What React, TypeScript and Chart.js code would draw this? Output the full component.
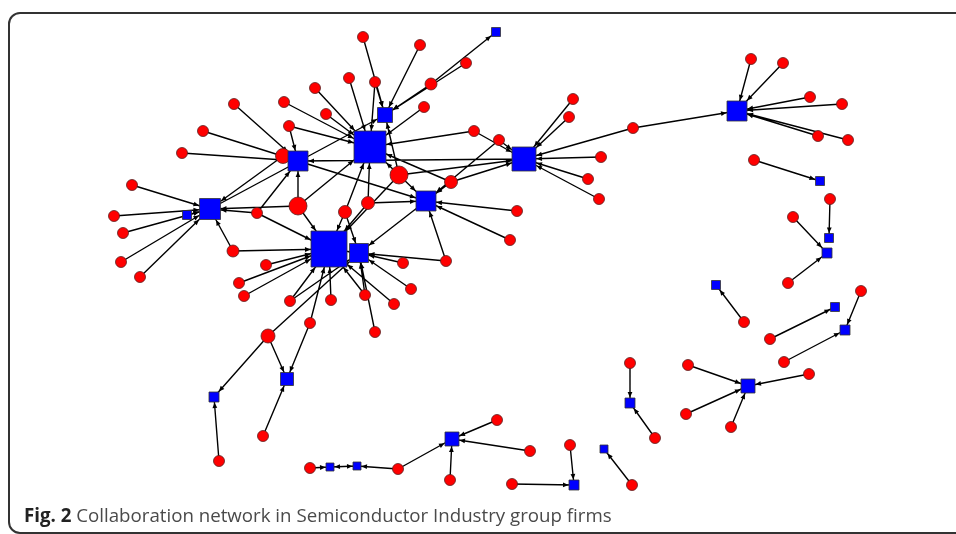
import { useEffect, useRef } from "react";
import { Chart, registerables } from "chart.js";

Chart.register(...registerables);

// ---- Firms (blue squares) ----
const firmIds = ["F1","F2","F3","F4","F5","F6","F7","F8","F9","F10","F11","F12","F13","F14","F15","F16","F17","F18","F19","F20","F21","F22","F23","F24","F25","F26"];
const firmX = [298,385,370,524,210,187,426,329,359,496,737,820,829,827,716,835,845,748,630,604,574,452,357,330,287,214];
const firmY = [161,115,147,159,209,215,201,249,253,32,111,181,238,253,285,307,330,386,403,449,485,439,466,467,379,397];
const firmWeight = [20,15,32,24,21,9,20,36,19,9,20,9,9,10,9,9,10,14,10,8,10,14,8,8,13,10];

// ---- Partners (red circles) ----
const partnerIds = ["P1","P2","P3","P4","P5","P6","P7","P8","P9","P10","P11","P12","P13","P14","P15","P16","P17","P18","P19","P20","P21","P22","P23","P24","P25","P26","P27","P28","P29","P30","P31","P32","P33","P34","P35","P36","P37","P38","P39","P40","P41","P42","P43","P44","P45","P46","P47","P48","P49","P50","P51","P52","P53","P54","P55","P56","P57","P58","P59","P60","P61","P62","P63","P64","P65","P66","P67","P68","P69","P70","P71","P72","P73","P74","P75","P76","P77","P78","P79","P80"];
const partnerX = [363,420,466,349,375,431,424,326,315,234,284,289,203,182,283,474,499,573,569,633,601,588,599,399,451,298,257,368,345,132,114,123,121,140,233,266,239,244,290,331,310,268,365,394,375,411,403,446,510,517,263,219,310,398,450,497,530,512,570,632,630,655,688,686,731,809,784,770,744,861,788,793,830,754,751,783,810,842,818,848];
const partnerY = [37,45,63,78,82,84,107,114,88,104,102,126,131,153,156,131,140,99,117,128,157,179,199,175,182,206,213,203,212,185,216,233,262,277,251,265,283,296,301,300,323,336,295,304,332,289,263,261,240,211,436,461,468,469,480,420,451,484,445,485,363,438,365,414,427,374,362,339,322,291,283,217,199,160,59,63,97,104,136,140];
const partnerWeight = [11,11,11,11,11,12,11,11,11,11,11,11,11,11,15,11,11,11,11,11,11,11,11,18,13,18,11,13,13,11,11,11,11,11,12,11,11,11,11,11,11,14,11,11,11,11,11,11,11,11,11,11,11,11,11,11,11,11,11,11,11,11,11,11,11,11,11,11,11,11,11,11,11,11,11,11,11,11,11,11];

// ---- Directed ties ----
const edgeFrom = [
  "P75","P76","P77","P78","P79","P80","P20","P20","P74","P73","P72","P71","P69","P68","P70","P67",
  "P63","P66","P64","P65","P61","P62","P60","P59","P58","P56","P57","P55","P54","P54","F23","F24","P53",
  "P42","P41","P51","P42","P52","P6","P3","P6","P1","P2","P5",
  "P5","P4","P8","P11","P9","P12","P7","P16","P25","P24","P26","P28","P29","P24","F5",
  "P12","P10","P13","P14","P15","P26","P27","F4","F1",
  "P16","P17","P18","P19","P21","P22","P23","P24","P25",
  "P17","P25","P24","P28","P50","P49","P48","F7",
  "P30","P31","P32","P33","P34","F6","P15","P26","P27","P35",
  "P35","P27","P26","P36","P37","P38","P39","P40","P41","P43","P44","P29","P28","P24",
  "P39","P42","P43","P45","P46","P47","P48","P29","F9"
];
const edgeTo = [
  "F11","F11","F11","F11","F11","F11","F11","F4","F12","F13","F14","F14","F15","F16","F17","F17",
  "F18","F18","F18","F18","F19","F19","F20","F21","F21","F22","F22","F22","F22","F23","F24","F23","F24",
  "F25","F25","F25","F26","F26","F10","F2","F2","F2","F2","F2",
  "F3","F3","F3","F3","F3","F3","F3","F3","F3","F3","F3","F3","F3","F2","F2",
  "F1","F1","F1","F1","F1","F1","F1","F1","F7",
  "F4","F4","F4","F4","F4","F4","F4","F4","F4",
  "F7","F7","F7","F7","F7","F7","F7","F9",
  "F5","F5","F5","F5","F5","F5","F5","F5","F5","F5",
  "F8","F8","F8","F8","F8","F8","F8","F8","F8","F8","F8","F8","F8","F8",
  "F9","F9","F9","F9","F9","F9","F9","F9","F8"
];

type NodeInfo = { x: number; y: number; kind: "firm" | "partner"; w: number };

function buildNodes(): Record<string, NodeInfo> {
  const m: Record<string, NodeInfo> = {};
  firmIds.forEach((id, i) => (m[id] = { x: firmX[i], y: firmY[i], kind: "firm", w: firmWeight[i] }));
  partnerIds.forEach((id, i) => (m[id] = { x: partnerX[i], y: partnerY[i], kind: "partner", w: partnerWeight[i] }));
  return m;
}

const W = 956;
const H = 534;

export default function App() {
  const ref = useRef<HTMLCanvasElement | null>(null);

  useEffect(() => {
    if (!ref.current) return;
    const nodes = buildNodes();
    const edgeData: { x: number; y: number | null }[] = [];
    edgeFrom.forEach((s, i) => {
      const a = nodes[s];
      const b = nodes[edgeTo[i]];
      edgeData.push({ x: a.x, y: a.y }, { x: b.x, y: b.y }, { x: b.x, y: null });
    });

    const arrowPlugin = {
      id: "arrowheads",
      afterDatasetDraw(chart: any, args: any) {
        if (args.index !== 2) return;
        const xs = chart.scales.x;
        const ys = chart.scales.y;
        const ctx = chart.ctx as CanvasRenderingContext2D;
        ctx.save();
        ctx.fillStyle = "#000";
        edgeFrom.forEach((s, i) => {
          const a = nodes[s];
          const b = nodes[edgeTo[i]];
          const ax = xs.getPixelForValue(a.x), ay = ys.getPixelForValue(a.y);
          const bx = xs.getPixelForValue(b.x), by = ys.getPixelForValue(b.y);
          const dx = bx - ax, dy = by - ay;
          const len = Math.hypot(dx, dy) || 1;
          const ux = dx / len, uy = dy / len;
          let t: number;
          if (b.kind === "firm") {
            const h = b.w / 2 + 0.5;
            t = h / Math.max(Math.abs(ux), Math.abs(uy));
          } else {
            t = b.w / 2 + 0.5;
          }
          const tx = bx - ux * t, ty = by - uy * t;
          const L = 5.5, hw = 2.4;
          const baseX = tx - ux * L, baseY = ty - uy * L;
          ctx.beginPath();
          ctx.moveTo(tx, ty);
          ctx.lineTo(baseX - uy * hw, baseY + ux * hw);
          ctx.lineTo(baseX + uy * hw, baseY - ux * hw);
          ctx.closePath();
          ctx.fill();
        });
        ctx.restore();
      },
    };

    const chart = new Chart(ref.current, {
      type: "scatter",
      data: {
        datasets: [
          {
            label: "Firms",
            data: firmIds.map((_, i) => ({ x: firmX[i], y: firmY[i] })),
            pointStyle: "rect",
            pointRadius: firmWeight.map((w) => w / Math.SQRT2),
            backgroundColor: "#0000ff",
            borderColor: "#333333",
            borderWidth: 0.8,
            clip: false,
            order: 0,
          },
          {
            label: "Partners",
            data: partnerIds.map((_, i) => ({ x: partnerX[i], y: partnerY[i] })),
            pointStyle: "circle",
            pointRadius: partnerWeight.map((w) => w / 2),
            backgroundColor: "#ff0000",
            borderColor: "#5a2020",
            borderWidth: 0.8,
            clip: false,
            order: 1,
          },
          {
            label: "Ties",
            data: edgeData as any,
            showLine: true,
            spanGaps: false,
            pointRadius: 0,
            borderColor: "#000000",
            borderWidth: 1.4,
            clip: false,
            order: 2,
          },
        ],
      },
      options: {
        animation: false,
        responsive: true,
        maintainAspectRatio: false,
        events: [],
        layout: { padding: 0, autoPadding: false },
        plugins: { legend: { display: false }, tooltip: { enabled: false } },
        scales: {
          x: { type: "linear", min: 0, max: W, display: false },
          y: { type: "linear", min: 0, max: H, reverse: true, display: false },
        },
      },
      plugins: [arrowPlugin],
    });
    return () => chart.destroy();
  }, []);

  return (
    <div style={{ position: "fixed", left: 0, top: 0, width: W, height: H, overflow: "hidden", background: "#fff" }}>
      <div
        style={{
          position: "absolute",
          left: 8,
          top: 12,
          width: 1000,
          height: 522,
          boxSizing: "border-box",
          border: "2px solid #333",
          borderRadius: 12,
        }}
      />
      <div style={{ position: "absolute", left: 0, top: 0, width: W, height: H }}>
        <canvas ref={ref} />
      </div>
      <div
        style={{
          position: "absolute",
          left: 24,
          top: 504,
          fontFamily: "'Open Sans', sans-serif",
          fontSize: 18.7,
          lineHeight: "22px",
          color: "#4a4a4a",
          whiteSpace: "nowrap",
        }}
      >
        <span style={{ fontWeight: 700, color: "#222" }}>Fig. 2</span> Collaboration network in Semiconductor Industry group firms
      </div>
    </div>
  );
}
